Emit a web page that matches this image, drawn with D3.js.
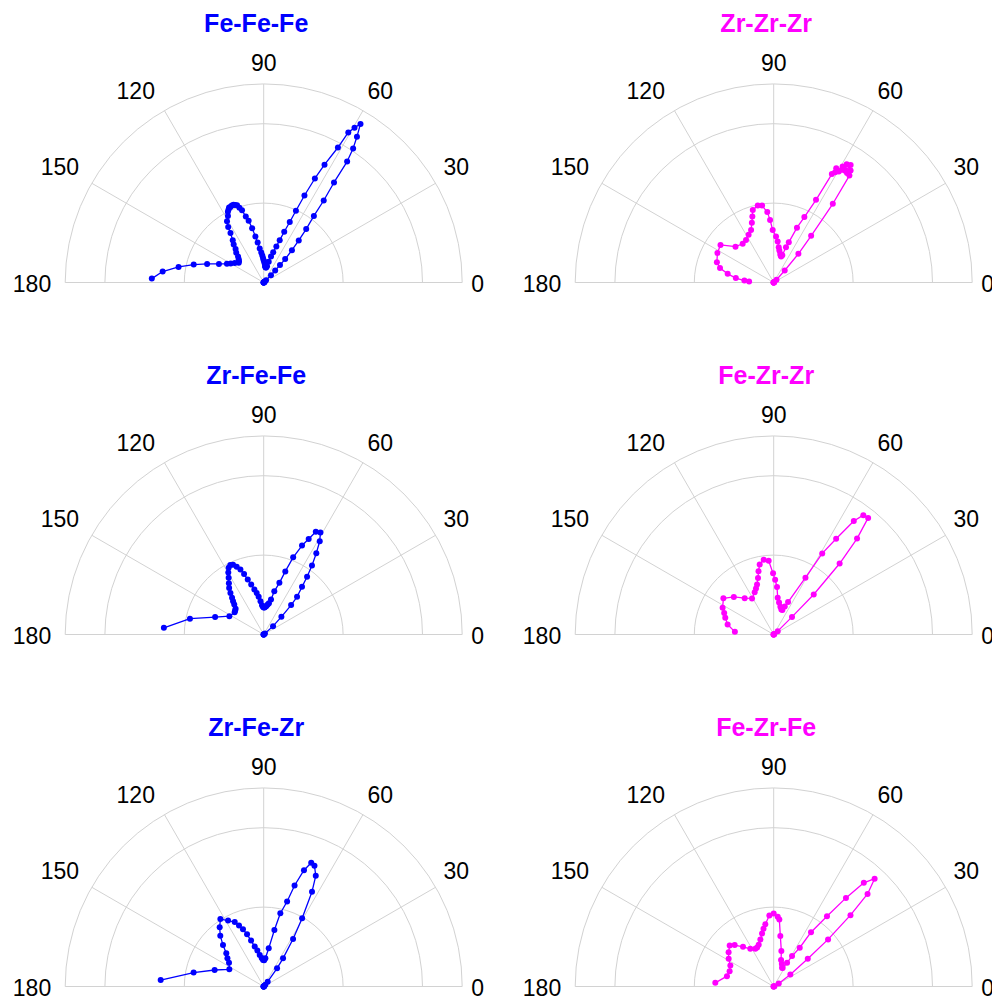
<!DOCTYPE html>
<html><head><meta charset="utf-8">
<script src="https://cdn.jsdelivr.net/npm/d3@7/dist/d3.min.js"></script>
<style>body{margin:0;background:#fff}svg{display:block}</style>
</head><body>
<svg id="chart" width="992" height="999"></svg>
<script>
// ---- data (bond angle in degrees, distribution value) ----
const panelTitles = ["Fe-Fe-Fe", "Zr-Zr-Zr", "Zr-Fe-Fe", "Fe-Zr-Zr", "Zr-Fe-Zr", "Fe-Zr-Fe"];
const panelColors = ["#0000ff", "#ff00ff", "#0000ff", "#ff00ff", "#0000ff", "#ff00ff"];
const angleTicks = [0, 30, 60, 90, 120, 150, 180];
const radialGrid = [1, 2];
const radialMax = 2.5;

const feFeFeTheta = [0,12,20,26,31,35,38,41,43,45,46.6,46.9,47.5,48.8,50.2,51.5,53,53.8,54.9,55.4,56.3,57.4,58.6,59.6,60.6,61.2,62.7,63.8,64.9,65.8,66.7,68,69.3,70.6,72.6,74.3,76.4,78.5,80.5,82.5,84,85.5,87,88.5,90,91.6,93,94.6,96.7,98.6,100.2,102,103.7,105.2,106.7,108,109,110.2,111.2,112.5,113.8,114.8,115.7,116.8,118.3,120.9,122.6,123.9,126.2,128.3,130.1,132.7,134.6,137,139.5,141.8,146,150,153,157.5,161.8,165.6,169.6,173.8,178];
const feFeFeR     = [0,0,0,0,0,0.005,0.01,0.02,0.04,0.13,0.21,0.30,0.40,0.54,0.69,0.86,1.05,1.28,1.54,1.85,2.03,2.18,2.34,2.26,2.17,1.94,1.67,1.46,1.21,0.99,0.83,0.69,0.57,0.48,0.40,0.34,0.27,0.21,0.19,0.19,0.20,0.21,0.24,0.26,0.28,0.31,0.34,0.38,0.43,0.51,0.59,0.70,0.80,0.86,0.95,0.99,1.03,1.04,1.05,1.05,1.04,1.04,1.02,1.00,0.95,0.90,0.83,0.75,0.66,0.61,0.55,0.51,0.46,0.43,0.41,0.40,0.44,0.48,0.52,0.61,0.75,0.91,1.09,1.28,1.41];

const zrZrZrTheta = [0,15,25,32,38,42,45,47.5,49.3,51.3,53.1,54.7,55.5,56.2,56.8,57.4,57.9,58.3,58.8,59.3,59.6,60.3,60.9,61.3,61.8,62.9,64.9,67,69.4,70.8,72.5,74,75.5,77,80,81.9,84.5,87.1,91.1,93.3,95.2,98.6,101.7,106.1,107.9,110.1,113.3,117.7,123,128.7,136.8,144.8,152.4,160.3,165,169.3,173.4,176.1,177.6];
const zrZrZrR     = [0,0,0,0,0,0.01,0.05,0.205,0.477,0.754,1.24,1.65,1.71,1.66,1.77,1.67,1.68,1.75,1.66,1.70,1.62,1.62,1.59,1.64,1.55,1.17,0.91,0.75,0.54,0.47,0.36,0.34,0.35,0.37,0.41,0.45,0.52,0.58,0.66,0.79,0.89,0.98,0.99,0.95,0.875,0.80,0.72,0.68,0.64,0.625,0.66,0.82,0.80,0.76,0.70,0.59,0.48,0.37,0.31];

const zrFeFeTheta = [0,15,25,32,37,41.8,45,47,48.5,51.2,53.1,55,57.1,59,60.9,63.1,64.8,66.7,69.1,71.1,73.1,76.2,78.2,80.5,82.4,84.5,86.6,88.3,90,91.7,93.3,95.5,97.6,99.6,101.7,104,106.2,108,109.7,111.7,113.7,115.7,117.7,119.7,121.7,124.2,126.6,128.7,130.8,132.6,134.4,137.5,140,142.7,151.9,160.3,167.9,176.2];
const zrFeFeR     = [0,0,0,0,0.02,0.158,0.315,0.506,0.634,0.77,0.91,1.06,1.22,1.37,1.47,1.45,1.33,1.22,1.04,0.84,0.68,0.56,0.45,0.40,0.38,0.36,0.35,0.34,0.34,0.35,0.37,0.42,0.48,0.53,0.58,0.65,0.72,0.80,0.87,0.92,0.96,0.97,0.95,0.90,0.84,0.78,0.73,0.67,0.61,0.57,0.53,0.48,0.47,0.46,0.49,0.65,0.95,1.26];

const feZrZrTheta = [0,15,25,32,36,39.8,43.9,45,47.1,49,51,53.1,54.8,56.9,59.1,60.8,66.1,68.5,70.4,73,76.5,80.5,83.8,86,88.5,90.6,93.9,97.6,101.3,103.5,105.5,108.4,111.1,114.2,121,128.6,136.7,144.3,152.4,156.5,161,167.7,176.1];
const feZrZrR     = [0,0,0,0,0.01,0.066,0.32,0.713,1.22,1.60,1.89,1.88,1.75,1.44,1.19,0.82,0.446,0.38,0.326,0.33,0.36,0.41,0.465,0.60,0.69,0.77,0.93,0.95,0.90,0.82,0.74,0.665,0.62,0.585,0.53,0.586,0.69,0.78,0.726,0.68,0.645,0.594,0.49];

const zrFeZrTheta = [0,15,25,32,38,43,47,50.4,53.7,55.5,58.3,60.6,63,64.8,67.2,69,70.9,73,74.6,77.2,79.3,82.5,86.6,89,91.4,94,97.2,100,102.7,105.4,107.7,109.9,112,114.2,118.4,122.7,126.6,130.6,134.4,138.4,142,145.5,153.4,161.4,168.8,176.4];
const zrFeZrR     = [0,0,0,0,0,0.01,0.03,0.079,0.284,0.43,0.704,0.986,1.34,1.54,1.65,1.67,1.55,1.33,1.11,0.946,0.725,0.485,0.356,0.33,0.334,0.36,0.40,0.46,0.515,0.60,0.69,0.767,0.83,0.89,0.944,1.01,0.93,0.84,0.733,0.63,0.58,0.53,0.484,0.652,0.90,1.30];

const feZrFeTheta = [0,15,22,27,31,35.8,39.1,40.9,42.9,44.6,46.9,49,50.8,52.8,55.5,56.1,58.9,60.6,64.3,65.9,70,74.4,77.8,82.5,85.2,86.7,90,93.5,97.7,100,102.4,105.8,109.7,113,116,121.8,127.7,133.3,137,142.7,148.4,154.1,160.8,167.5,176.4];
const feZrFeR     = [0,0,0,0.01,0.074,0.259,0.553,0.906,1.32,1.66,1.86,1.73,1.44,1.11,0.83,0.588,0.447,0.343,0.26,0.258,0.30,0.345,0.456,0.64,0.848,0.88,0.92,0.897,0.79,0.74,0.684,0.616,0.56,0.535,0.528,0.559,0.632,0.717,0.758,0.714,0.666,0.607,0.588,0.603,0.737];

const panelThetas = [feFeFeTheta, zrZrZrTheta, zrFeFeTheta, feZrZrTheta, zrFeZrTheta, feZrFeTheta];
const panelRs     = [feFeFeR, zrZrZrR, zrFeFeR, feZrZrR, zrFeZrR, feZrFeR];

// ---- layout ----
const colCenters = [263.7, 773.7];
const rowCenters = [282.5, 634.5, 986.5];
const R = 198.5;
const gridColor = "#d2d2d2";
const labelFont = "'Liberation Sans', Arial, Helvetica, sans-serif";

const svg = d3.select("#chart");
svg.append("rect").attr("width", 992).attr("height", 999).attr("fill", "#fff");

const rScale = d3.scaleLinear().domain([0, radialMax]).range([0, R]);
const aScale = d3.scaleLinear().domain([0, 180]).range([Math.PI / 2, -Math.PI / 2]);

panelTitles.forEach((title, i) => {
  const cx = colCenters[i % 2], cy = rowCenters[Math.floor(i / 2)];
  const g = svg.append("g").attr("transform", `translate(${cx},${cy})`);

  // radial grid circles (half arcs) + outer frame
  [...radialGrid, radialMax].forEach(v => {
    const p = d3.path();
    const rr = rScale(v);
    p.moveTo(-rr, 0);
    p.arc(0, 0, rr, Math.PI, 2 * Math.PI);
    g.append("path").attr("d", p.toString()).attr("fill", "none")
      .attr("stroke", gridColor).attr("stroke-width", 1);
  });

  // angular spokes
  angleTicks.forEach(t => {
    const [x, y] = d3.pointRadial(aScale(t), R);
    g.append("line").attr("x1", 0).attr("y1", 0).attr("x2", x).attr("y2", y)
      .attr("stroke", gridColor).attr("stroke-width", 1);
  });

  // angular tick labels
  angleTicks.forEach(t => {
    const c = Math.cos(t * Math.PI / 180), s = Math.sin(t * Math.PI / 180);
    const [px, py] = d3.pointRadial(aScale(t), R + 9);
    let anchor = "middle", x = px;
    if (c > 0.01) { anchor = "start"; }
    else if (c < -0.01) { anchor = "end"; x = px - 5; }
    const capCenter = py + (s > 0.01 ? -12 : 1.5);
    g.append("text").attr("x", x).attr("y", capCenter + 0.358 * 23)
      .attr("text-anchor", anchor).attr("font-family", labelFont)
      .attr("font-size", 23).attr("fill", "#000").text(t);
  });

  // title
  g.append("text").attr("x", -7.5).attr("y", -251)
    .attr("text-anchor", "middle").attr("font-family", labelFont)
    .attr("font-weight", "bold").attr("font-size", 25)
    .attr("fill", panelColors[i]).text(title);

  // data trace
  const pts = panelThetas[i].map((t, k) => ({ t, r: panelRs[i][k] }));
  const line = d3.lineRadial().angle(d => aScale(d.t)).radius(d => rScale(d.r));
  g.append("path").attr("d", line(pts)).attr("fill", "none")
    .attr("stroke", panelColors[i]).attr("stroke-width", 1.3).attr("stroke-linejoin", "round");
  g.selectAll("circle.pt").data(pts).enter().append("circle").attr("class", "pt")
    .attr("cx", d => d3.pointRadial(aScale(d.t), rScale(d.r))[0])
    .attr("cy", d => d3.pointRadial(aScale(d.t), rScale(d.r))[1])
    .attr("r", 3).attr("fill", panelColors[i]);
});
</script>
</body></html>
